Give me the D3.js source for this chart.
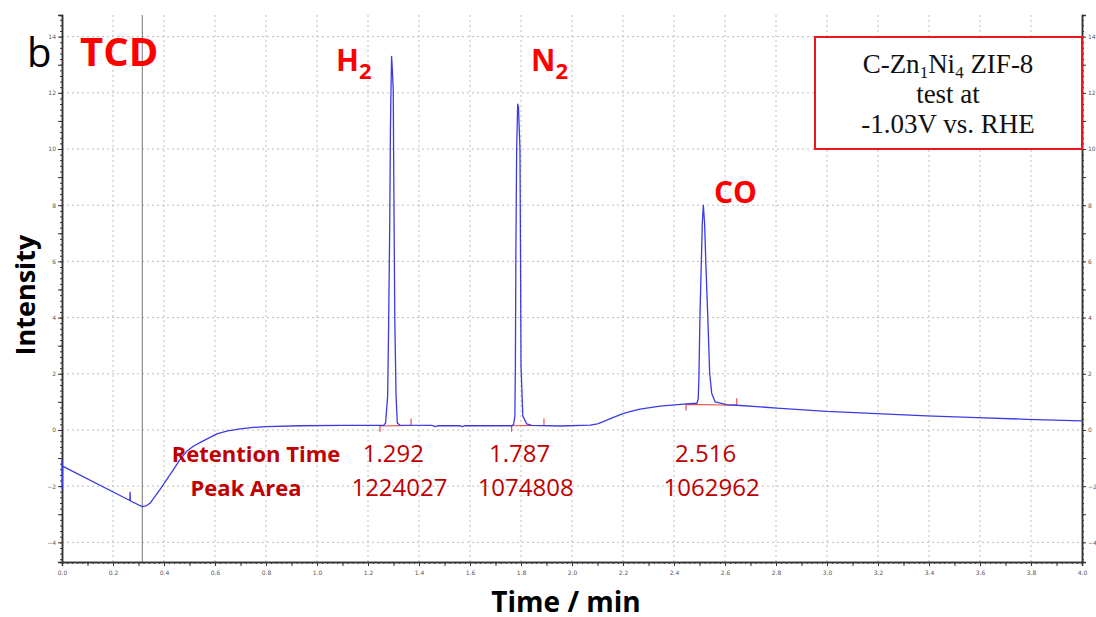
<html>
<head>
<meta charset="utf-8">
<style>
  body { margin: 0; background: #fff; }
  svg text { font-family: "Open Sans", sans-serif; }
</style>
</head>
<body>
<div id="chart"></div>
<script src="https://d3js.org/d3.v7.min.js"></script>
<script>
// chromatogram trace: [time (min), intensity]
var trace = [
  [0, -1.05], [0.001, -2.09], [0.002, -1.29], [0.266, -2.51], [0.267, -2.21], [0.268, -2.53],
  [0.315, -2.73], [0.33, -2.70], [0.345, -2.61],
  [0.384, -2.12], [0.437, -1.41], [0.465, -1.02], [0.489, -0.76], [0.515, -0.58], [0.541, -0.45],
  [0.607, -0.14], [0.65, -0.03], [0.698, 0.035], [0.75, 0.09], [0.803, 0.12], [0.933, 0.15],
  [1.1, 0.16], [1.262, 0.16],
  // H2
  [1.269, 0.25], [1.277, 1.2], [1.281, 3.8], [1.285, 7.1], [1.288, 10.7], [1.290, 12.0],
  [1.2925, 13.3], [1.295, 12.9], [1.299, 12.1], [1.301, 9.1], [1.305, 4.0], [1.310, 1.2],
  [1.315, 0.25], [1.325, 0.17],
  [1.45, 0.16], [1.465, 0.12], [1.475, 0.15], [1.56, 0.15], [1.57, 0.12], [1.58, 0.15],
  [1.765, 0.15],
  // N2
  [1.771, 0.2], [1.776, 0.5], [1.778, 2.3], [1.780, 6.4], [1.783, 10.0], [1.787, 11.6],
  [1.790, 11.5], [1.796, 10.0], [1.798, 6.4], [1.800, 2.3], [1.807, 0.5], [1.822, 0.22],
  [1.842, 0.16],
  [1.953, 0.14], [2.071, 0.17], [2.1, 0.22], [2.123, 0.30], [2.16, 0.44], [2.2, 0.58],
  [2.235, 0.67], [2.267, 0.74], [2.345, 0.85], [2.45, 0.93], [2.49, 0.95],
  // CO
  [2.495, 1.1], [2.498, 2.0], [2.502, 4.15], [2.507, 5.9], [2.511, 7.35], [2.515, 8.0],
  [2.520, 7.35], [2.525, 5.9], [2.532, 4.15], [2.540, 2.0], [2.548, 1.3], [2.561, 1.0],
  [2.607, 0.9],
  [2.646, 0.88], [2.803, 0.78], [2.999, 0.66], [3.195, 0.58], [3.391, 0.50], [3.587, 0.44],
  [3.783, 0.38], [4.0, 0.32]
];

var peakNames = ["H", "N", "CO"];
var peakSubs = ["2", "2", ""];
var retention = [1.292, 1.787, 2.516];
var peakArea = [1224027, 1074808, 1062962];
// integration baselines: start, end, level at start, level at end
var intStart = [1.247, 1.763, 2.447];
var intEnd = [1.369, 1.890, 2.646];
var intY0 = [0.14, 0.15, 0.91];
var intY1 = [0.16, 0.16, 0.88];

var xTicks = d3.range(0, 4.001, 0.2);
var yTicks = d3.range(-4, 14.001, 2);
var markerTime = 0.315;

var W = 1096, H = 617;
var pLeft = 62, pRight = 1082, pTop = 15, pBottom = 562;

var x = d3.scaleLinear().domain([0, 4]).range([pLeft, pRight]);
var y = d3.scaleLinear().domain([-4.7, 14.77]).range([pBottom, pTop]);

var svg = d3.select("#chart").append("svg")
  .attr("width", W).attr("height", H);

// grid
svg.append("g").selectAll("line")
  .data(xTicks.filter(function(d) { return d > 0.01 && d < 3.99; }))
  .enter().append("line")
  .attr("x1", function(d) { return x(d); }).attr("x2", function(d) { return x(d); })
  .attr("y1", pTop).attr("y2", pBottom)
  .attr("stroke", "#bdbdbd").attr("stroke-dasharray", "2,3");
svg.append("g").selectAll("line")
  .data(yTicks)
  .enter().append("line")
  .attr("x1", pLeft).attr("x2", pRight)
  .attr("y1", function(d) { return y(d); }).attr("y2", function(d) { return y(d); })
  .attr("stroke", "#bdbdbd").attr("stroke-dasharray", "2,3");

// vertical marker
svg.append("line")
  .attr("x1", x(markerTime)).attr("x2", x(markerTime))
  .attr("y1", pTop).attr("y2", pBottom)
  .attr("stroke", "#8c8c8c").attr("stroke-width", 1.2);

// axes
function styleAxis(g) {
  g.select(".domain").attr("stroke", "#333").attr("stroke-width", 1.5);
  g.selectAll(".tick line").attr("stroke", "#333");
  g.selectAll(".tick text").attr("fill", "#555").style("font-family", "DejaVu Sans").style("font-size", "6px");
}
var fmt = d3.format(".1f");
svg.append("g").attr("transform", "translate(0," + pBottom + ")")
  .call(d3.axisBottom(x).tickValues(d3.range(0, 4.001, 0.02)).tickSize(2).tickFormat(""))
  .call(styleAxis);
svg.append("g").attr("transform", "translate(0," + pBottom + ")")
  .call(d3.axisBottom(x).tickValues(d3.range(0, 4.001, 0.1)).tickSize(4).tickPadding(5)
    .tickFormat(function(d) { var r = Math.round(d * 10); return r % 2 === 0 ? fmt(d) : ""; }))
  .call(styleAxis);

[["L", pLeft], ["R", pRight]].forEach(function(s) {
  var mk = s[0] === "L" ? d3.axisLeft : d3.axisRight;
  svg.append("g").attr("transform", "translate(" + s[1] + ",0)")
    .call(mk(y).tickValues(d3.range(-4.6, 14.7, 0.2)).tickSize(2).tickFormat(""))
    .call(styleAxis);
  svg.append("g").attr("transform", "translate(" + s[1] + ",0)")
    .call(mk(y).tickValues(d3.range(-4, 14.001, 1)).tickSize(4).tickPadding(2)
      .tickFormat(function(d) { return Math.round(d) % 2 === 0 ? d3.format("d")(d) : ""; }))
    .call(styleAxis);
});

// integration baselines
var integ = retention.map(function(d, i) { return i; });
svg.append("g").selectAll("path")
  .data(integ).enter().append("path")
  .attr("fill", "none").attr("stroke", "#e8504d").attr("stroke-width", 1.2)
  .attr("d", function(i) {
    var xs = x(intStart[i]), xe = x(intEnd[i]), ys = y(intY0[i]), ye = y(intY1[i]);
    return "M" + xs + "," + (ys + 6) + "V" + ys + "L" + xe + "," + ye + "V" + (ye - 7);
  });

// trace
var line = d3.line()
  .x(function(d) { return x(d[0]); })
  .y(function(d) { return y(d[1]); })
  .curve(d3.curveLinear);
svg.append("path").datum(trace)
  .attr("fill", "none").attr("stroke", "#3b3be6").attr("stroke-width", 1.3)
  .attr("stroke-linejoin", "round")
  .attr("d", line);

// panel letter and detector label
svg.append("text").attr("x", 27).attr("y", 67).text("b")
  .style("font-size", "40px").attr("fill", "#000");
svg.append("text").attr("x", 80).attr("y", 66).text("TCD")
  .style("font-size", "40px").style("font-weight", "bold").attr("fill", "#ff0000");

// peak labels
var labelX = [336, 531, 714], labelY = [71, 71, 203];
peakNames.forEach(function(n, i) {
  var t = svg.append("text").attr("x", labelX[i]).attr("y", labelY[i])
    .style("font-size", "30px").style("font-weight", "bold").attr("fill", "#ff0000");
  t.append("tspan").text(n);
  if (peakSubs[i]) t.append("tspan").attr("dy", 8).style("font-size", "22px").text(peakSubs[i]);
});

// retention / area table
var dark = "#c00000";
svg.append("text").attr("x", 256).attr("y", 462).attr("text-anchor", "middle")
  .style("font-size", "22px").style("font-weight", "bold").attr("fill", dark).text("Retention Time");
svg.append("text").attr("x", 246).attr("y", 496).attr("text-anchor", "middle")
  .style("font-size", "22px").style("font-weight", "bold").attr("fill", dark).text("Peak Area");
svg.append("g").selectAll("text").data(retention).enter().append("text")
  .attr("x", function(d) { return x(d) + 2; }).attr("y", 462).attr("text-anchor", "middle")
  .style("font-size", "24px").attr("fill", dark).text(function(d) { return d3.format(".3f")(d); });
svg.append("g").selectAll("text").data(peakArea).enter().append("text")
  .attr("x", function(d, i) { return x(retention[i]) + 8; }).attr("y", 496).attr("text-anchor", "middle")
  .style("font-size", "24px").attr("fill", dark).text(function(d) { return d; });

// sample box
svg.append("rect").attr("x", 815).attr("y", 37).attr("width", 267).attr("height", 112)
  .attr("fill", "#fff").attr("stroke", "#e8191c").attr("stroke-width", 2);
var bx = 948;
var l1 = svg.append("text").attr("x", bx).attr("y", 73).attr("text-anchor", "middle")
  .style("font-family", "Liberation Serif").style("font-size", "27px").attr("fill", "#111");
l1.append("tspan").text("C-Zn");
l1.append("tspan").attr("dy", 5).style("font-size", "17px").text("1");
l1.append("tspan").attr("dy", -5).text("Ni");
l1.append("tspan").attr("dy", 5).style("font-size", "17px").text("4");
l1.append("tspan").attr("dy", -5).text(" ZIF-8");
svg.append("text").attr("x", bx).attr("y", 103).attr("text-anchor", "middle")
  .style("font-family", "Liberation Serif").style("font-size", "27px").attr("fill", "#111").text("test at");
svg.append("text").attr("x", bx).attr("y", 133).attr("text-anchor", "middle")
  .style("font-family", "Liberation Serif").style("font-size", "27px").attr("fill", "#111").text("-1.03V vs. RHE");

// axis titles
svg.append("text").attr("x", 566).attr("y", 612).attr("text-anchor", "middle")
  .style("font-size", "28px").style("font-weight", "bold").attr("fill", "#000").text("Time / min");
svg.append("text").attr("transform", "translate(35,295) rotate(-90)").attr("text-anchor", "middle")
  .style("font-size", "27px").style("font-weight", "bold").attr("fill", "#000").text("Intensity");
</script>
</body>
</html>
